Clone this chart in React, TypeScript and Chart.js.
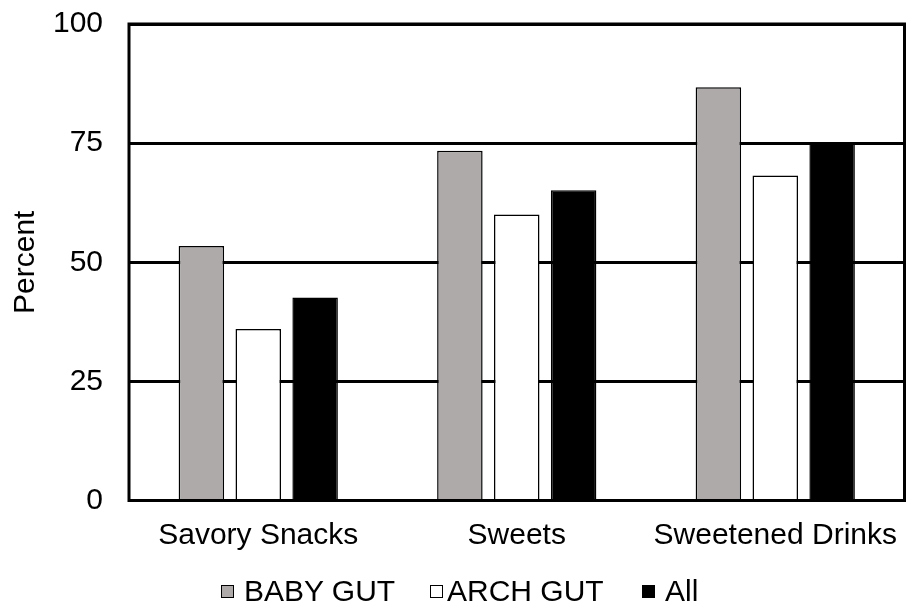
import React, { useEffect, useRef } from 'react';
import { Chart, registerables } from 'chart.js';

Chart.register(...registerables);

const categories = ['Savory Snacks', 'Sweets', 'Sweetened Drinks'];
const babyGut = [53.4, 73.4, 86.7];
const archGut = [36.0, 60.0, 68.2];
const allValues = [42.6, 65.1, 75.0];
const seriesNames = ['BABY GUT', 'ARCH GUT', 'All'];
const seriesColors = ['#AEAAAA', '#FFFFFF', '#000000'];
const yMin = 0;
const yMax = 100;
const yStep = 25;
const yTitle = 'Percent';

const FONT = "'Liberation Sans', Arial, sans-serif";

// legend layout (pixels)
const legendBoxLeft = [221, 430, 642];
const legendTextGap = [10, 4, 10];

const framePlugin = {
  id: 'frame',
  afterDatasetsDraw(chart: any) {
    const { ctx, chartArea } = chart;
    ctx.save();
    ctx.strokeStyle = '#000';
    ctx.lineWidth = 3;
    ctx.strokeRect(chartArea.left, chartArea.top, chartArea.right - chartArea.left, chartArea.bottom - chartArea.top);
    ctx.restore();
  },
};

export default function App() {
  const ref = useRef<HTMLCanvasElement | null>(null);

  useEffect(() => {
    if (!ref.current) return;
    const series = [babyGut, archGut, allValues];
    const chart = new Chart(ref.current, {
      type: 'bar',
      data: {
        labels: categories,
        datasets: series.map((d, i) => ({
          label: seriesNames[i],
          data: d,
          backgroundColor: seriesColors[i],
          borderColor: '#000',
          borderWidth: 1.5,
          categoryPercentage: 0.66,
          barPercentage: 0.8,
        })),
      },
      options: {
        responsive: false,
        animation: false,
        devicePixelRatio: 1,
        layout: { padding: { left: 0, right: 1.5, top: 24, bottom: 0 } },
        plugins: {
          legend: { display: false },
          tooltip: { enabled: false },
        },
        scales: {
          x: {
            grid: { display: false, drawTicks: false },
            border: { display: false },
            ticks: {
              color: '#000',
              font: { family: FONT, size: 30 },
              padding: 17,
              maxRotation: 0,
              autoSkip: false,
            },
            afterFit(scale: any) {
              scale.height = 105.5;
              scale.paddingLeft = 0;
              scale.paddingRight = 0;
            },
          },
          y: {
            min: yMin,
            max: yMax,
            grid: { color: '#000', lineWidth: 3, drawTicks: false },
            border: { display: false },
            ticks: {
              stepSize: yStep,
              color: '#000',
              font: { family: FONT, size: 30 },
              padding: 26,
            },
            title: {
              display: true,
              text: yTitle,
              color: '#000',
              font: { family: FONT, size: 30 },
              padding: { top: 8, bottom: 0 },
            },
            afterFit(scale: any) {
              scale.width = 129;
              scale.paddingTop = 0;
              scale.paddingBottom = 0;
            },
          },
        },
      },
      plugins: [framePlugin],
    });
    return () => chart.destroy();
  }, []);

  return (
    <div style={{ position: 'fixed', left: 0, top: 0, width: 906, height: 606, background: '#fff', overflow: 'hidden' }}>
      <canvas ref={ref} width={906} height={606} style={{ display: 'block', width: 906, height: 606 }} />
      {seriesNames.map((name, i) => (
        <div
          key={name}
          style={{
            position: 'absolute',
            top: 576,
            left: legendBoxLeft[i],
            height: 30,
            display: 'flex',
            alignItems: 'center',
            fontFamily: FONT,
            fontSize: 30,
            lineHeight: '30px',
            color: '#000',
            whiteSpace: 'nowrap',
          }}
        >
          <span
            style={{
              display: 'inline-block',
              width: 13,
              height: 13,
              boxSizing: 'border-box',
              border: '1px solid #000',
              background: seriesColors[i],
              marginRight: legendTextGap[i],
            }}
          />
          <span>{name}</span>
        </div>
      ))}
    </div>
  );
}
